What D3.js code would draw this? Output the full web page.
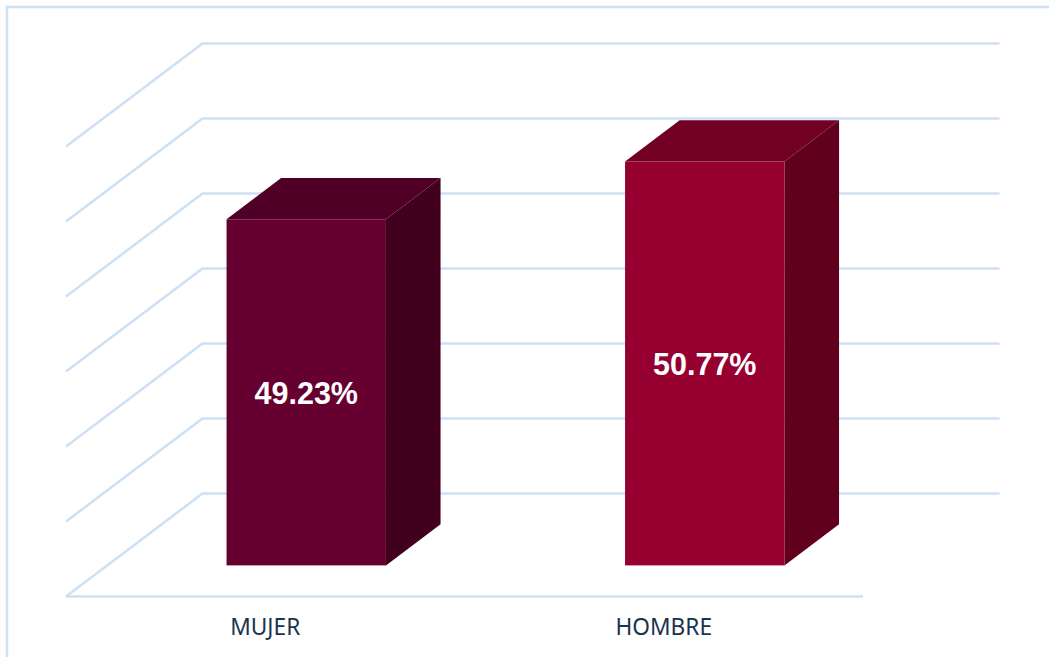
<!DOCTYPE html>
<html>
<head>
<meta charset="utf-8">
<script src="https://cdn.jsdelivr.net/npm/d3@7"></script>
<style>
  html, body { margin: 0; padding: 0; background: #fff; overflow: hidden; }
  svg { display: block; }
</style>
</head>
<body>
<svg width="1049" height="657"></svg>
<script>
// data
var categories = ["MUJER", "HOMBRE"];
var values = [49.23, 50.77];
var valueLabels = ["49.23%", "50.77%"];
var gridValues = [40, 42, 44, 46, 48, 50, 52];
var frontColors = ["#660030", "#960030"];
var topColors = ["#500026", "#720024"];
var sideColors = ["#40001e", "#60001e"];

var svg = d3.select("svg");
var gridColor = "#cde0f4";

// floor of the chart runs back and to the right
var depthX = 136.5, depthY = -103;
var barFront = 0.302, barBack = 0.702;

var y = d3.scaleLinear().domain([40, 52]).range([596.5, 146.5]);
var xAxisScale = d3.scaleBand().domain(categories).range([66, 863]);
var x = d3.scaleBand().domain(categories).range([107, 904])
  .paddingInner(0.6).paddingOuter(0.3);

// outer border, only top and left show
svg.append("path")
  .attr("d", "M7,657V7H1049")
  .attr("fill", "none")
  .attr("stroke", gridColor)
  .attr("stroke-width", 2.5);

// grid lines: side wall + back wall
svg.append("g").selectAll("path")
  .data(gridValues)
  .enter().append("path")
  .attr("fill", "none")
  .attr("stroke", gridColor)
  .attr("stroke-width", 2.5)
  .attr("d", function(d) {
    return d3.line()([
      [66, y(d)],
      [66 + depthX, y(d) + depthY],
      [863 + depthX, y(d) + depthY]
    ]);
  });

// floor front line
svg.append("line")
  .attr("x1", 66).attr("x2", 863)
  .attr("y1", y(40)).attr("y2", y(40))
  .attr("stroke", gridColor)
  .attr("stroke-width", 2.5);

// bars
var yBar = function(v) { return y(v) + depthY * barFront; };
var shiftX = depthX * (barBack - barFront), shiftY = depthY * (barBack - barFront);

var bars = svg.append("g").selectAll("g")
  .data(categories)
  .enter().append("g");

bars.each(function(c, i) {
  var g = d3.select(this);
  var x0 = x(c), x1 = x0 + x.bandwidth();
  var yt = yBar(values[i]), yb = yBar(40);
  var line = d3.line();

  // side face
  g.append("path")
    .attr("fill", sideColors[i])
    .attr("d", line([[x1, yt], [x1 + shiftX, yt + shiftY], [x1 + shiftX, yb + shiftY], [x1, yb]]) + "Z");
  // top face
  g.append("path")
    .attr("fill", topColors[i])
    .attr("d", line([[x0, yt], [x0 + shiftX, yt + shiftY], [x1 + shiftX, yt + shiftY], [x1, yt]]) + "Z");
  // front face
  g.append("rect")
    .attr("x", x0).attr("y", yt)
    .attr("width", x.bandwidth()).attr("height", yb - yt)
    .attr("fill", frontColors[i]);

  g.append("text")
    .attr("x", (x0 + x1) / 2)
    .attr("y", (yt + yb) / 2)
    .attr("dy", "0.37em")
    .attr("text-anchor", "middle")
    .attr("font-family", "'Liberation Sans', Arial, sans-serif")
    .attr("font-weight", "bold")
    .attr("font-size", 30.5)
    .attr("fill", "#fff")
    .text(valueLabels[i]);
});

// category labels
var xAxis = svg.append("g")
  .attr("transform", "translate(0,596)")
  .call(d3.axisBottom(xAxisScale).tickSize(0).tickPadding(22.5));
xAxis.select(".domain").remove();
xAxis.selectAll("text")
  .attr("font-family", "'Noto Sans', sans-serif")
  .attr("font-size", 22.7)
  .attr("fill", "#1a3350");
</script>
</body>
</html>
